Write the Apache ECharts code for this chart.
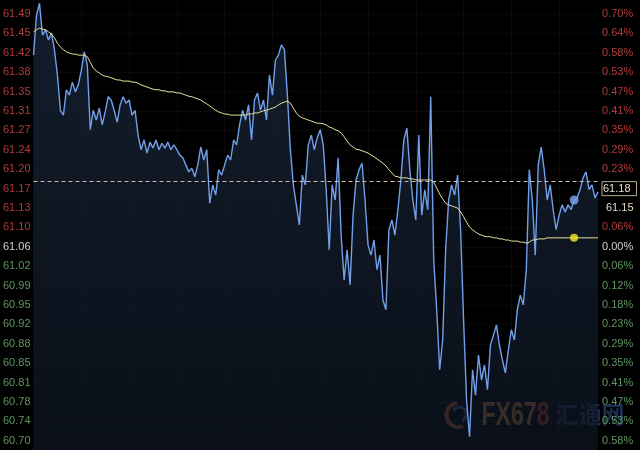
<!DOCTYPE html>
<html>
<head>
<meta charset="utf-8">
<script src="https://cdn.jsdelivr.net/npm/echarts@6/dist/echarts.min.js"></script>
<style>html,body{margin:0;padding:0;background:#000;}#c{width:640px;height:450px;}</style>
</head>
<body>
<div id="c"></div>
<script>
// Intraday price (blue) and average price (yellow)
const PRICE = [
61.414,61.488,61.510,61.451,61.461,61.442,61.455,61.424,61.377,61.312,
61.303,61.350,61.340,61.364,61.346,61.359,61.386,61.420,61.396,61.276,
61.312,61.294,61.316,61.285,61.309,61.337,61.331,61.312,61.290,61.322,
61.337,61.325,61.331,61.303,61.312,61.266,61.239,61.257,61.233,61.253,
61.242,61.257,61.239,61.251,61.242,61.253,61.239,61.248,61.239,61.229,
61.224,61.211,61.198,61.205,61.189,61.211,61.244,61.220,61.239,61.140,
61.174,61.155,61.202,61.192,61.211,61.229,61.220,61.257,61.248,61.285,
61.312,61.294,61.322,61.257,61.331,61.344,61.312,61.331,61.294,61.377,
61.340,61.405,61.414,61.433,61.424,61.340,61.239,61.174,61.137,61.100,
61.192,61.174,61.248,61.266,61.239,61.261,61.276,61.248,61.165,61.054,
61.174,61.146,61.224,61.081,60.998,61.054,60.989,61.118,61.183,61.202,
61.214,61.146,61.063,61.044,61.072,61.017,61.044,60.961,60.943,61.091,
61.109,61.081,61.128,61.183,61.257,61.279,61.202,61.146,61.109,61.266,
61.118,61.165,61.128,61.337,61.035,60.943,60.832,60.887,61.054,61.146,
61.174,61.155,61.192,61.091,60.924,60.776,60.708,60.832,60.785,60.859,
60.813,60.841,60.795,60.878,60.896,60.915,60.878,60.850,60.826,60.869,
60.906,60.887,60.943,60.970,60.952,61.017,61.202,61.146,61.044,61.211,
61.244,61.202,61.146,61.174,61.128,61.091,61.118,61.137,61.124,61.137,
61.128,61.146,61.150,61.165,61.187,61.198,61.165,61.174,61.150,61.161
];
const AVG = [
61.457,61.461,61.464,61.462,61.461,61.457,61.453,61.446,61.436,61.429,
61.424,61.420,61.418,61.416,61.416,61.414,61.414,61.414,61.411,61.401,
61.390,61.385,61.381,61.377,61.375,61.374,61.372,61.370,61.368,61.368,
61.366,61.366,61.366,61.364,61.364,61.362,61.359,61.357,61.355,61.353,
61.351,61.350,61.350,61.348,61.348,61.346,61.346,61.346,61.344,61.344,
61.342,61.340,61.338,61.337,61.335,61.333,61.331,61.327,61.324,61.320,
61.316,61.312,61.309,61.307,61.305,61.305,61.303,61.303,61.303,61.303,
61.303,61.303,61.305,61.305,61.307,61.307,61.309,61.311,61.312,61.314,
61.316,61.318,61.322,61.325,61.327,61.329,61.325,61.316,61.307,61.301,
61.298,61.296,61.294,61.292,61.290,61.288,61.288,61.287,61.285,61.281,
61.279,61.276,61.274,61.270,61.263,61.255,61.248,61.244,61.240,61.239,
61.237,61.235,61.233,61.229,61.226,61.222,61.218,61.214,61.209,61.202,
61.196,61.190,61.189,61.187,61.187,61.187,61.185,61.185,61.183,61.183,
61.183,61.183,61.183,61.183,61.179,61.168,61.157,61.148,61.140,61.137,
61.135,61.133,61.131,61.124,61.115,61.105,61.096,61.091,61.087,61.083,
61.081,61.079,61.078,61.078,61.076,61.076,61.074,61.074,61.072,61.072,
61.070,61.070,61.070,61.068,61.068,61.066,61.068,61.072,61.072,61.074,
61.074,61.074,61.076,61.076,61.076,61.076,61.076,61.076,61.076,61.076,
61.076,61.076,61.076,61.076,61.076,61.076,61.076,61.076,61.076,61.076
];
const CATEGORIES = PRICE.map((_, i) => String(i));
const LEFT_LABELS = ['61.49','61.45','61.42','61.38','61.35','61.31','61.27','61.24','61.20','61.17','61.13','61.10',
  '61.06','61.02','60.99','60.95','60.92','60.88','60.85','60.81','60.78','60.74','60.70'];
const RIGHT_LABELS = ['0.70%','0.64%','0.58%','0.53%','0.47%','0.41%','0.35%','0.29%','0.23%','61.18','61.15',
  '0.06%','0.00%','0.06%','0.12%','0.18%','0.23%','0.29%','0.35%','0.41%','0.47%','0.53%','0.58%'];
const ZERO_INDEX = 12;          // label row of previous close (0.00%)
const TICK_TOP = 61.490;        // value of first label row
const TICK_STEP = 0.03589;      // value step between label rows
const AXIS_MIN = 60.6835, AXIS_MAX = 61.516;
const LAST_PRICE = 61.178;
const MARK_INDEX = 181;

const TICKS = LEFT_LABELS.map((_, k) => +(TICK_TOP - k * TICK_STEP).toFixed(5));
const rowOf = v => Math.round((TICK_TOP - v) / TICK_STEP);
const RED = '#b23b3b', GREEN = '#5f9560', WHITE = '#d2d2d2';
const colorOf = k => k < ZERO_INDEX ? RED : (k === ZERO_INDEX ? WHITE : GREEN);
const FONT = 'Liberation Sans, Arial, sans-serif';

const chart = echarts.init(document.getElementById('c'), null, {renderer: 'canvas'});
chart.setOption({
  backgroundColor: '#000',
  animation: false,
  grid: {left: 33, right: 40, top: 0, bottom: 0},
  xAxis: {
    type: 'category', data: CATEGORIES, boundaryGap: false,
    axisLine: {show: false}, axisTick: {show: false}, axisLabel: {show: false},
    splitLine: {show: true, interval: 15, lineStyle: {color: 'rgba(255,255,255,0.035)', width: 1}}
  },
  yAxis: [{
    type: 'value', min: AXIS_MIN, max: AXIS_MAX, position: 'left',
    axisLine: {show: false},
    axisTick: {show: false, customValues: TICKS},
    axisLabel: {
      customValues: TICKS, margin: 3, fontFamily: FONT, fontSize: 11,
      formatter: v => LEFT_LABELS[rowOf(v)],
      color: v => colorOf(rowOf(v))
    },
    splitLine: {show: true, lineStyle: {color: 'rgba(255,255,255,0.04)', width: 1}}
  }, {
    type: 'value', min: AXIS_MIN, max: AXIS_MAX, position: 'right',
    axisLine: {show: false},
    axisTick: {show: false, customValues: TICKS},
    axisLabel: {
      customValues: TICKS, margin: 4, fontFamily: FONT, fontSize: 11,
      formatter: v => {
        const k = rowOf(v);
        if (k === 9) return '{box|' + RIGHT_LABELS[k] + '}';
        if (k === 10) return '{px|' + RIGHT_LABELS[k] + '}';
        return RIGHT_LABELS[k];
      },
      color: v => colorOf(rowOf(v)),
      rich: {
        box: {color: '#e6dcd0', borderColor: '#b9ab98', borderWidth: 1, padding: [2, 6, 1, 1],
              fontSize: 11, fontFamily: FONT},
        px: {color: '#e4d6c4', padding: [0, 0, 0, 4], fontSize: 11, fontFamily: FONT}
      }
    },
    splitLine: {show: false}
  }],
  series: [{
    name: 'price', type: 'line', data: PRICE, showSymbol: false, smooth: false,
    lineStyle: {color: '#729fea', width: 1.4},
    areaStyle: {
      origin: 'start',
      color: new echarts.graphic.LinearGradient(0, 0, 0, 1, [
        {offset: 0, color: '#1b293e'}, {offset: 1, color: '#0e1623'}
      ])
    },
    markLine: {
      silent: true, symbol: 'none', label: {show: false},
      lineStyle: {color: '#d4b8ae', type: [4, 3], width: 1},
      data: [{yAxis: LAST_PRICE}]
    },
    z: 2
  }, {
    name: 'avg', type: 'line', data: AVG, showSymbol: false, smooth: false,
    lineStyle: {color: '#e8e2a2', width: 1}, z: 3
  }, {
    name: 'avgDot', type: 'scatter', data: [[MARK_INDEX, AVG[MARK_INDEX]]],
    symbolSize: 8, itemStyle: {color: '#f5ef1e'}, z: 5
  }, {
    name: 'priceDot', type: 'scatter', data: [[MARK_INDEX, PRICE[MARK_INDEX]]],
    symbolSize: 9, itemStyle: {color: '#7ea8ee'}, z: 5
  }],
  graphic: [{
    type: 'group', left: 444, top: 399, silent: true, z: 10,
    children: [
      {type: 'arc', shape: {cx: 14, cy: 16, r: 12, startAngle: 1.2, endAngle: 4.6},
       style: {stroke: 'rgba(190,90,40,0.75)', lineWidth: 4, fill: 'none'}},
      {type: 'arc', shape: {cx: 15, cy: 15, r: 7, startAngle: 3.6, endAngle: 7.4},
       style: {stroke: 'rgba(60,100,170,0.8)', lineWidth: 3, fill: 'none'}},
      {type: 'text', x: 37, y: 0, scaleX: 0.7,
       style: {text: '{a|FX67}{b|8}', rich: {
         a: {fill: 'rgba(175,110,45,0.85)', font: 'bold 33px ' + FONT},
         b: {fill: 'rgba(170,50,40,0.85)', font: 'bold 33px ' + FONT}
       }}},
      {type: 'text', x: 111, y: 4,
       style: {text: '汇通网', fill: 'rgba(50,85,145,0.55)', font: 'bold 23px "Noto Sans CJK SC", sans-serif'}}
    ]
  }]
});
</script>
</body>
</html>
